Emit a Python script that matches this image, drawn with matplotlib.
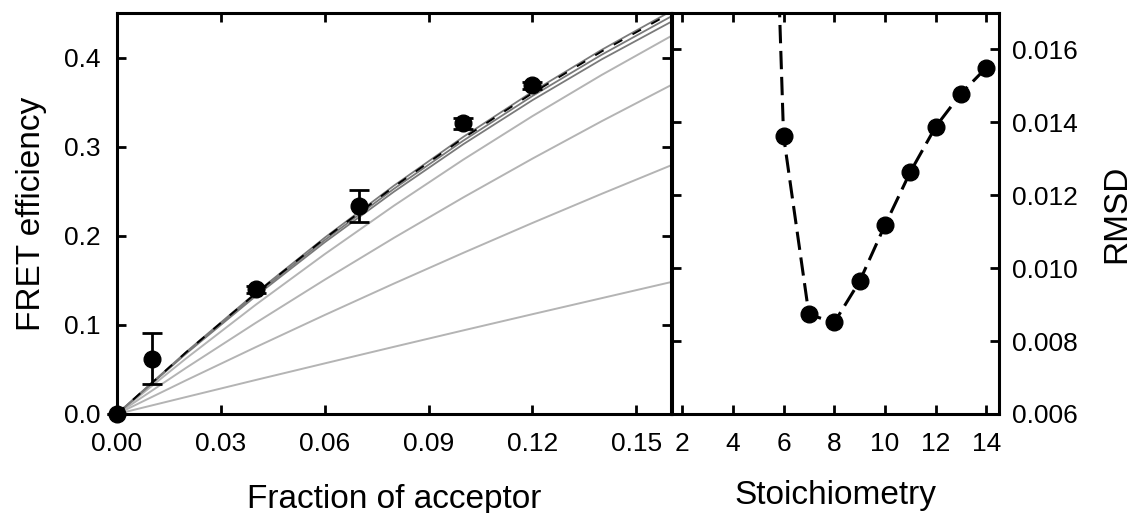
import matplotlib
matplotlib.use("Agg")
import matplotlib.pyplot as plt

plt.rcParams['font.family'] = ['Liberation Sans', 'DejaVu Sans']

# left panel: measured FRET efficiency vs acceptor fraction
frac = [0.0, 0.01, 0.04, 0.07, 0.10, 0.12]
fret = [0.0, 0.062, 0.140, 0.233, 0.326, 0.369]
fret_lo = [0.0, 0.028, 0.004, 0.018, 0.006, 0.004]
fret_hi = [0.0, 0.029, 0.004, 0.018, 0.006, 0.004]

# model curves at these fractions
curve_x = [0.0, 0.02, 0.04, 0.06, 0.08, 0.10, 0.12, 0.14, 0.16]
light_curves = [
    [0.0, 0.0191, 0.0381, 0.0568, 0.0754, 0.0938, 0.1120, 0.1300, 0.148],
    [0.0, 0.0379, 0.0749, 0.1111, 0.1464, 0.1808, 0.2144, 0.2471, 0.279],
    [0.0, 0.0519, 0.1021, 0.1507, 0.1977, 0.2430, 0.2866, 0.3286, 0.369],
    [0.0, 0.0625, 0.1224, 0.1794, 0.2338, 0.2854, 0.3343, 0.3805, 0.424],
]
dark_curves = [
    [0.0, 0.0679, 0.1321, 0.1927, 0.2495, 0.3027, 0.3522, 0.3980, 0.440],
    [0.0, 0.0688, 0.1339, 0.1952, 0.2528, 0.3067, 0.3569, 0.4032, 0.446],
    [0.0, 0.0697, 0.1357, 0.1979, 0.2563, 0.3109, 0.3617, 0.4087, 0.452],
]
best_fit = [0.0, 0.0694, 0.1351, 0.1970, 0.2551, 0.3095, 0.3601, 0.4069, 0.450]

# right panel: RMSD vs stoichiometry
stoich = [5, 6, 7, 8, 9, 10, 11, 12, 13, 14]
rmsd = [0.0351, 0.01363, 0.00873, 0.00851, 0.00964, 0.01118,
        0.01264, 0.01388, 0.01479, 0.0155]

fig = plt.figure(figsize=(11.34, 5.13), dpi=100)
ax1 = fig.add_axes([0.1032, 0.193, 0.4885, 0.7817])
ax2 = fig.add_axes([0.5926, 0.193, 0.2884, 0.7817])

for c in light_curves:
    ax1.plot(curve_x, c, color='#b4b4b4', lw=1.4, zorder=1)
for c in dark_curves:
    ax1.plot(curve_x, c, color='#7a7a7a', lw=1.3, zorder=2)
ax1.plot(curve_x, best_fit, color='black', lw=1.4, dashes=(5, 6), zorder=3)

ax1.errorbar(frac, fret, yerr=[fret_lo, fret_hi], fmt='o', color='black',
             ms=12, elinewidth=2, capsize=7, capthick=2, zorder=4,
             clip_on=False)

ax1.set_xlim(0, 0.16)
ax1.set_ylim(0, 0.45)
ax1.set_xticks([0.0, 0.03, 0.06, 0.09, 0.12, 0.15])
ax1.set_xticklabels(['0.00', '0.03', '0.06', '0.09', '0.12', '0.15'])
ax1.set_yticks([0.0, 0.1, 0.2, 0.3, 0.4])
ax1.set_yticklabels(['0.0', '0.1', '0.2', '0.3', '0.4'])
ax1.set_xlabel('Fraction of acceptor', fontsize=24, labelpad=20)
ax1.set_ylabel('FRET efficiency', fontsize=24, labelpad=12)

ax2.plot(stoich, rmsd, color='black', lw=2.2, dashes=(6, 2.5),
         marker='o', ms=12, zorder=3)
ax2.set_xlim(1.6, 14.5)
ax2.set_ylim(0.006, 0.017)
ax2.set_xticks([2, 4, 6, 8, 10, 12, 14])
ax2.set_yticks([0.006, 0.008, 0.010, 0.012, 0.014, 0.016])
ax2.set_yticklabels(['0.006', '0.008', '0.010', '0.012', '0.014', '0.016'])
ax2.yaxis.set_label_position('right')
ax2.set_xlabel('Stoichiometry', fontsize=24, labelpad=17)
ax2.set_ylabel('RMSD', fontsize=24, labelpad=17)

for ax in (ax1, ax2):
    for s in ax.spines.values():
        s.set_linewidth(2.2)
    ax.tick_params(direction='in', length=6.5, width=2, labelsize=19,
                   top=True, right=True)
    ax.tick_params(axis='x', pad=13)

ax1.tick_params(axis='y', pad=12)
ax2.tick_params(axis='y', labelleft=False, labelright=True, pad=9)

fig.savefig('out.png', dpi=100)
